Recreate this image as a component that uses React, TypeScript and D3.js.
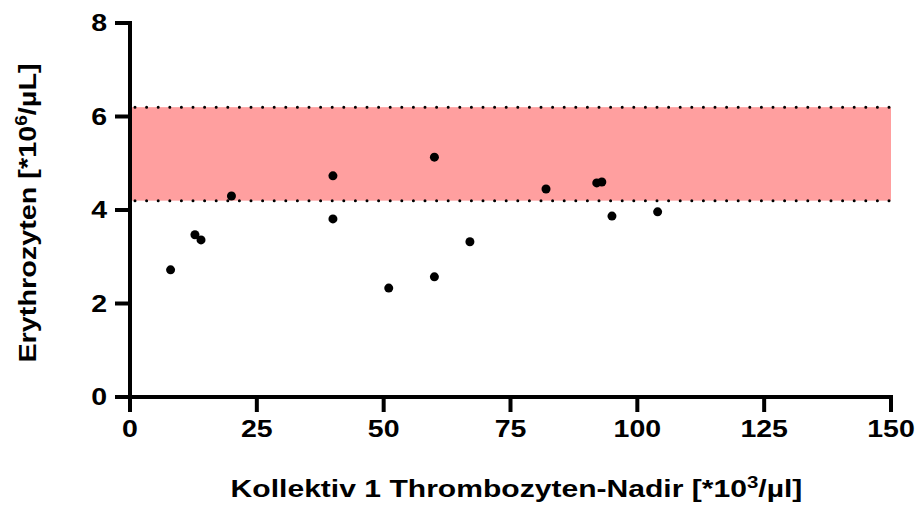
import React from 'react';
import * as d3 from 'd3';

// Thrombozyten-Nadir [*10^3/µl] vs Erythrozyten [*10^6/µL]
const plateletNadir = [8, 12.8, 14, 20, 40, 40, 51, 60, 60, 67, 82, 92, 93, 95, 104];
const erythrocytes = [2.72, 3.47, 3.36, 4.3, 4.73, 3.81, 2.33, 5.13, 2.57, 3.32, 4.45, 4.58, 4.6, 3.87, 3.96];
const xTicks = [0, 25, 50, 75, 100, 125, 150];
const yTicks = [0, 2, 4, 6, 8];
const refRange = [4.2, 6.2];

const W = 918;
const H = 505;
const margin = { top: 23, right: 27, bottom: 108, left: 130 };
const stretch = 1.24; // the original font runs wide

export default function App() {
  const x = d3.scaleLinear().domain([0, 150]).range([margin.left, W - margin.right]);
  const y = d3.scaleLinear().domain([0, 8]).range([H - margin.bottom, margin.top]);
  const font = 'Arial, "Liberation Sans", sans-serif';
  const x0 = x(0);
  const y0 = y(0);

  const dotLine = (v: number) => (
    <line
      x1={x(0) + 2}
      x2={x(150)}
      y1={y(v)}
      y2={y(v)}
      stroke="#000"
      strokeWidth={3}
      strokeDasharray="0 11.6"
      strokeLinecap="round"
      transform="translate(3,0)"
    />
  );

  return (
    <svg width={W} height={H} style={{ position: 'absolute', left: 0, top: 0 }} fontFamily={font}>
      <rect width={W} height={H} fill="#fff" />
      {/* reference range */}
      <rect
        x={x(0)}
        y={y(refRange[1])}
        width={x(150) - x(0)}
        height={y(refRange[0]) - y(refRange[1])}
        fill="#ff9f9f"
      />
      {dotLine(refRange[0])}
      {dotLine(refRange[1])}

      {/* points */}
      {plateletNadir.map((v, i) => (
        <circle key={i} cx={x(v)} cy={y(erythrocytes[i])} r={4.5} fill="#000" />
      ))}

      {/* y axis */}
      <line x1={x0} x2={x0} y1={y(8) - 2} y2={y0 + 15} stroke="#000" strokeWidth={4} />
      {yTicks.map((t) => (
        <g key={t}>
          <line x1={x0 - 15} x2={x0} y1={y(t)} y2={y(t)} stroke="#000" strokeWidth={4} />
          <text
            transform={`translate(${x0 - 23},${y(t) + 8}) scale(${stretch},1)`}
            textAnchor="end"
            fontSize={23}
            fontWeight="bold"
          >
            {t}
          </text>
        </g>
      ))}

      {/* x axis */}
      <line x1={x0 - 15} x2={x(150) + 2} y1={y0} y2={y0} stroke="#000" strokeWidth={4} />
      {xTicks.map((t) => (
        <g key={t}>
          <line x1={x(t)} x2={x(t)} y1={y0} y2={y0 + 15} stroke="#000" strokeWidth={4} />
          <text
            transform={`translate(${x(t)},${y0 + 40}) scale(${stretch},1)`}
            textAnchor="middle"
            fontSize={23}
            fontWeight="bold"
          >
            {t}
          </text>
        </g>
      ))}

      {/* titles */}
      <text
        transform={`translate(36,${(y(8) + y0) / 2 + 3}) rotate(-90) scale(1.2,1)`}
        textAnchor="middle"
        fontSize={24}
        fontWeight="bold"
      >
        Erythrozyten [*10<tspan dy={-9} fontSize={16}>6</tspan>
        <tspan dy={9}>/µL]</tspan>
      </text>
      <text
        transform={`translate(${(x0 + x(150)) / 2 + 6},497) scale(1.28,1)`}
        textAnchor="middle"
        fontSize={23.5}
        fontWeight="bold"
      >
        Kollektiv 1 Thrombozyten-Nadir [*10<tspan dy={-9} fontSize={16}>3</tspan>
        <tspan dy={9}>/µl]</tspan>
      </text>
    </svg>
  );
}
